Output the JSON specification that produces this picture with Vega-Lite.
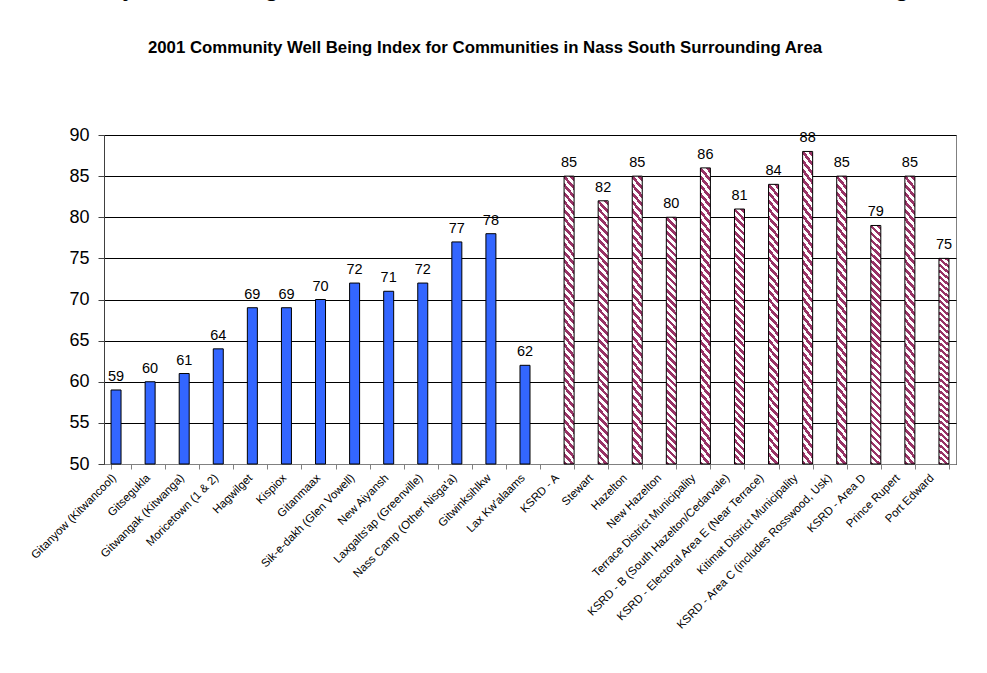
{
  "$schema": "https://vega.github.io/schema/vega-lite/v6.json",
  "width": 852,
  "height": 329,
  "autosize": "none",
  "padding": {"left": 104, "top": 135, "right": 31, "bottom": 209},
  "background": "white",
  "title": {
    "text": "Community Well-Being Index for Communities in Nass South Surrounding Area",
    "subtitle": "2001 Community Well Being Index for Communities in Nass South Surrounding Area",
    "anchor": "middle",
    "dx": -45,
    "offset": 69,
    "font": "Liberation Sans",
    "fontSize": 28,
    "fontWeight": "normal",
    "color": "black",
    "subtitleFont": "Liberation Sans",
    "subtitleFontSize": 16.8,
    "subtitleFontWeight": "bold",
    "subtitleColor": "black",
    "subtitlePadding": 39
  },
  "config": {"view": {"stroke": "#808080"}, "font": "Liberation Sans"},
  "data": {
    "values": [
      {"community": "Gitanyow (Kitwancool)", "index": 59, "group": "First Nations"},
      {"community": "Gitsegukla", "index": 60, "group": "First Nations"},
      {"community": "Gitwangak (Kitwanga)", "index": 61, "group": "First Nations"},
      {"community": "Moricetown (1 & 2)", "index": 64, "group": "First Nations"},
      {"community": "Hagwilget", "index": 69, "group": "First Nations"},
      {"community": "Kispiox", "index": 69, "group": "First Nations"},
      {"community": "Gitanmaax", "index": 70, "group": "First Nations"},
      {"community": "Sik-e-dakh (Glen Vowell)", "index": 72, "group": "First Nations"},
      {"community": "New Aiyansh", "index": 71, "group": "First Nations"},
      {"community": "Laxgalts'ap (Greenville)", "index": 72, "group": "First Nations"},
      {"community": "Nass Camp (Other Nisga'a)", "index": 77, "group": "First Nations"},
      {"community": "Gitwinksihlkw", "index": 78, "group": "First Nations"},
      {"community": "Lax Kw'alaams", "index": 62, "group": "First Nations"},
      {"community": "KSRD - A", "index": 85, "group": "Other"},
      {"community": "Stewart", "index": 82, "group": "Other"},
      {"community": "Hazelton", "index": 85, "group": "Other"},
      {"community": "New Hazelton", "index": 80, "group": "Other"},
      {"community": "Terrace District Municipality", "index": 86, "group": "Other"},
      {"community": "KSRD - B (South Hazelton/Cedarvale)", "index": 81, "group": "Other"},
      {"community": "KSRD - Electoral Area E (Near Terrace)", "index": 84, "group": "Other"},
      {"community": "Kitimat District Municipality", "index": 88, "group": "Other"},
      {"community": "KSRD - Area C (includes Rosswood, Usk)", "index": 85, "group": "Other"},
      {"community": "KSRD - Area D", "index": 79, "group": "Other"},
      {"community": "Prince Rupert", "index": 85, "group": "Other"},
      {"community": "Port Edward", "index": 75, "group": "Other"}
    ]
  },
  "encoding": {
    "x": {
      "field": "community",
      "type": "nominal",
      "sort": null,
      "scale": {"paddingInner": 0.413, "paddingOuter": 0.2065},
      "axis": {
        "title": null,
        "labelAngle": -45,
        "labelAlign": "right",
        "labelBaseline": "middle",
        "labelFontSize": 11.5,
        "labelColor": "black",
        "labelLimit": 0,
        "labelPadding": 7,
        "labelOffset": -7,
        "tickBand": "extent",
        "tickSize": 5,
        "tickColor": "#808080",
        "domainColor": "#808080",
        "grid": false
      }
    },
    "xOffset": {
      "field": "group",
      "type": "nominal",
      "scale": {"domain": ["First Nations", "Other"], "paddingInner": 0, "paddingOuter": 0}
    },
    "y": {
      "field": "index",
      "type": "quantitative",
      "scale": {"domain": [50, 90], "nice": false, "zero": false},
      "axis": {
        "title": null,
        "values": [50, 55, 60, 65, 70, 75, 80, 85, 90],
        "labelFontSize": 18,
        "labelColor": "black",
        "labelPadding": 9,
        "tickSize": 6,
        "tickColor": "#404040",
        "domainColor": "#404040",
        "grid": true,
        "gridColor": "black",
        "gridOpacity": 1
      }
    }
  },
  "layer": [
    {
      "transform": [{"filter": {"field": "group", "equal": "First Nations"}}],
      "mark": {"type": "bar", "fill": "#3366FF", "stroke": "black", "strokeWidth": 1},
      "encoding": {"y2": {"datum": 50}}
    },
    {
      "transform": [{"filter": {"field": "group", "equal": "Other"}}],
      "encoding": {"y2": {"datum": 50}},
      "mark": {
        "type": "bar",
        "stroke": "black",
        "strokeWidth": 1,
        "fill": {
          "gradient": "linear",
          "x1": 0, "y1": -0.05, "x2": -0.043, "y2": 1,
          "stops": [
            {"offset":0,"color":"#fff"},{"offset":0.01389,"color":"#fff"},{"offset":0.01389,"color":"#936"},{"offset":0.02778,"color":"#936"},
            {"offset":0.02778,"color":"#fff"},{"offset":0.04167,"color":"#fff"},{"offset":0.04167,"color":"#936"},{"offset":0.05556,"color":"#936"},
            {"offset":0.05556,"color":"#fff"},{"offset":0.06944,"color":"#fff"},{"offset":0.06944,"color":"#936"},{"offset":0.08333,"color":"#936"},
            {"offset":0.08333,"color":"#fff"},{"offset":0.09722,"color":"#fff"},{"offset":0.09722,"color":"#936"},{"offset":0.11111,"color":"#936"},
            {"offset":0.11111,"color":"#fff"},{"offset":0.125,"color":"#fff"},{"offset":0.125,"color":"#936"},{"offset":0.13889,"color":"#936"},
            {"offset":0.13889,"color":"#fff"},{"offset":0.15278,"color":"#fff"},{"offset":0.15278,"color":"#936"},{"offset":0.16667,"color":"#936"},
            {"offset":0.16667,"color":"#fff"},{"offset":0.18056,"color":"#fff"},{"offset":0.18056,"color":"#936"},{"offset":0.19444,"color":"#936"},
            {"offset":0.19444,"color":"#fff"},{"offset":0.20833,"color":"#fff"},{"offset":0.20833,"color":"#936"},{"offset":0.22222,"color":"#936"},
            {"offset":0.22222,"color":"#fff"},{"offset":0.23611,"color":"#fff"},{"offset":0.23611,"color":"#936"},{"offset":0.25,"color":"#936"},
            {"offset":0.25,"color":"#fff"},{"offset":0.26389,"color":"#fff"},{"offset":0.26389,"color":"#936"},{"offset":0.27778,"color":"#936"},
            {"offset":0.27778,"color":"#fff"},{"offset":0.29167,"color":"#fff"},{"offset":0.29167,"color":"#936"},{"offset":0.30556,"color":"#936"},
            {"offset":0.30556,"color":"#fff"},{"offset":0.31944,"color":"#fff"},{"offset":0.31944,"color":"#936"},{"offset":0.33333,"color":"#936"},
            {"offset":0.33333,"color":"#fff"},{"offset":0.34722,"color":"#fff"},{"offset":0.34722,"color":"#936"},{"offset":0.36111,"color":"#936"},
            {"offset":0.36111,"color":"#fff"},{"offset":0.375,"color":"#fff"},{"offset":0.375,"color":"#936"},{"offset":0.38889,"color":"#936"},
            {"offset":0.38889,"color":"#fff"},{"offset":0.40278,"color":"#fff"},{"offset":0.40278,"color":"#936"},{"offset":0.41667,"color":"#936"},
            {"offset":0.41667,"color":"#fff"},{"offset":0.43056,"color":"#fff"},{"offset":0.43056,"color":"#936"},{"offset":0.44444,"color":"#936"},
            {"offset":0.44444,"color":"#fff"},{"offset":0.45833,"color":"#fff"},{"offset":0.45833,"color":"#936"},{"offset":0.47222,"color":"#936"},
            {"offset":0.47222,"color":"#fff"},{"offset":0.48611,"color":"#fff"},{"offset":0.48611,"color":"#936"},{"offset":0.5,"color":"#936"},
            {"offset":0.5,"color":"#fff"},{"offset":0.51389,"color":"#fff"},{"offset":0.51389,"color":"#936"},{"offset":0.52778,"color":"#936"},
            {"offset":0.52778,"color":"#fff"},{"offset":0.54167,"color":"#fff"},{"offset":0.54167,"color":"#936"},{"offset":0.55556,"color":"#936"},
            {"offset":0.55556,"color":"#fff"},{"offset":0.56944,"color":"#fff"},{"offset":0.56944,"color":"#936"},{"offset":0.58333,"color":"#936"},
            {"offset":0.58333,"color":"#fff"},{"offset":0.59722,"color":"#fff"},{"offset":0.59722,"color":"#936"},{"offset":0.61111,"color":"#936"},
            {"offset":0.61111,"color":"#fff"},{"offset":0.625,"color":"#fff"},{"offset":0.625,"color":"#936"},{"offset":0.63889,"color":"#936"},
            {"offset":0.63889,"color":"#fff"},{"offset":0.65278,"color":"#fff"},{"offset":0.65278,"color":"#936"},{"offset":0.66667,"color":"#936"},
            {"offset":0.66667,"color":"#fff"},{"offset":0.68056,"color":"#fff"},{"offset":0.68056,"color":"#936"},{"offset":0.69444,"color":"#936"},
            {"offset":0.69444,"color":"#fff"},{"offset":0.70833,"color":"#fff"},{"offset":0.70833,"color":"#936"},{"offset":0.72222,"color":"#936"},
            {"offset":0.72222,"color":"#fff"},{"offset":0.73611,"color":"#fff"},{"offset":0.73611,"color":"#936"},{"offset":0.75,"color":"#936"},
            {"offset":0.75,"color":"#fff"},{"offset":0.76389,"color":"#fff"},{"offset":0.76389,"color":"#936"},{"offset":0.77778,"color":"#936"},
            {"offset":0.77778,"color":"#fff"},{"offset":0.79167,"color":"#fff"},{"offset":0.79167,"color":"#936"},{"offset":0.80556,"color":"#936"},
            {"offset":0.80556,"color":"#fff"},{"offset":0.81944,"color":"#fff"},{"offset":0.81944,"color":"#936"},{"offset":0.83333,"color":"#936"},
            {"offset":0.83333,"color":"#fff"},{"offset":0.84722,"color":"#fff"},{"offset":0.84722,"color":"#936"},{"offset":0.86111,"color":"#936"},
            {"offset":0.86111,"color":"#fff"},{"offset":0.875,"color":"#fff"},{"offset":0.875,"color":"#936"},{"offset":0.88889,"color":"#936"},
            {"offset":0.88889,"color":"#fff"},{"offset":0.90278,"color":"#fff"},{"offset":0.90278,"color":"#936"},{"offset":0.91667,"color":"#936"},
            {"offset":0.91667,"color":"#fff"},{"offset":0.93056,"color":"#fff"},{"offset":0.93056,"color":"#936"},{"offset":0.94444,"color":"#936"},
            {"offset":0.94444,"color":"#fff"},{"offset":0.95833,"color":"#fff"},{"offset":0.95833,"color":"#936"},{"offset":0.97222,"color":"#936"},
            {"offset":0.97222,"color":"#fff"},{"offset":0.98611,"color":"#fff"},{"offset":0.98611,"color":"#936"},{"offset":1,"color":"#936"}
          ]
        }
      }
    },
    {
      "mark": {"type": "text", "baseline": "alphabetic", "dy": -9, "fontSize": 14.5, "font": "Liberation Sans", "color": "black"},
      "encoding": {"text": {"field": "index", "type": "quantitative"}}
    }
  ]
}
